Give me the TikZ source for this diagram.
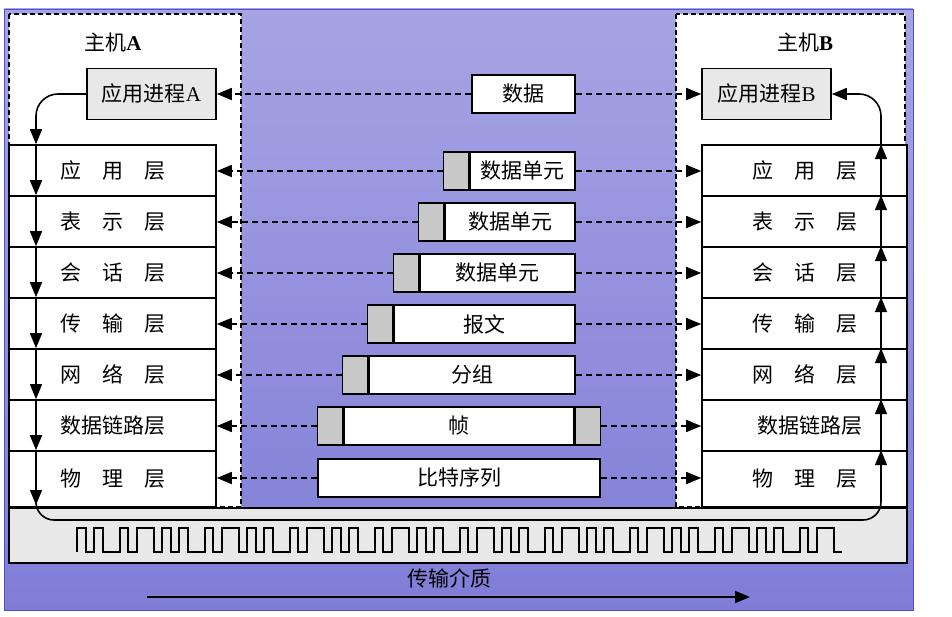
\documentclass[tikz,border=0pt]{standalone}
\usepackage{fontspec}
\setmainfont{Liberation Serif}
\newfontfamily\cjk{Noto Sans CJK SC}
\usetikzlibrary{arrows.meta}
\definecolor{bgtop}{RGB}{166,164,228}
\definecolor{bgbot}{RGB}{127,125,214}
\definecolor{bgline}{RGB}{80,80,200}
\definecolor{hdrgray}{RGB}{200,200,200}
\definecolor{ltgray}{RGB}{232,232,232}
\begin{document}
\begin{tikzpicture}[x=1pt,y=-1pt,
  txt/.style={font=\fontsize{21}{25}\selectfont},
  hostbox/.style={draw,fill=white,line width=1.4pt,dash pattern=on 5pt off 3pt},
  layerA/.style={draw,fill=white,line width=1.6pt,minimum width=207pt,minimum height=51pt,inner sep=0pt,txt},
  layerB/.style={draw,fill=white,line width=1.6pt,minimum width=205pt,minimum height=51pt,inner sep=0pt,txt},
  appbox/.style={draw,fill=ltgray,line width=1.6pt,minimum width=129pt,minimum height=51pt,inner sep=0pt,txt},
  pdu/.style={draw,fill=white,line width=1.6pt,minimum width=#1,minimum height=38pt,inner sep=0pt,txt},
  hdr/.style={draw,fill=hdrgray,line width=1.6pt,minimum width=25pt,minimum height=38pt,inner sep=0pt},
  arr/.style={line width=1.6pt,-{Triangle[length=15pt,width=12pt]}},
  darr/.style={line width=1.6pt,dash pattern=on 6pt off 4pt,-{Triangle[length=15pt,width=12pt]}},
  wave/.style={line width=1.5pt,line join=miter}]
\useasboundingbox (0,0) rectangle (952,617);
% background
\shade[top color=bgtop,bottom color=bgbot] (4,9) rectangle (913,610);
\draw[bgline,line width=0.8pt] (4,9) rectangle (913,610);
% hosts
\draw[hostbox] (9,14) rectangle (241,507);
\draw[hostbox] (676,14) rectangle (905,507);
\node[txt] (hostA) at (113,43) {{\cjk 主机}\textbf{A}};
\node[txt] (hostB) at (805,43) {{\cjk 主机}\textbf{B}};
% medium
\draw[fill=ltgray,line width=1.6pt] (9,508) rectangle (907,563);
% application processes
\node[appbox] (appA) at (151.5,94) {{\cjk 应用进程}A};
\node[appbox] (appB) at (766.5,94) {{\cjk 应用进程}B};
% layers host A
\node[layerA] (a1) at (112.5,170.5) {\cjk 应\quad 用\quad 层};
\node[layerA] (a2) at (112.5,221.5) {\cjk 表\quad 示\quad 层};
\node[layerA] (a3) at (112.5,272.5) {\cjk 会\quad 话\quad 层};
\node[layerA] (a4) at (112.5,323.5) {\cjk 传\quad 输\quad 层};
\node[layerA] (a5) at (112.5,374.5) {\cjk 网\quad 络\quad 层};
\node[layerA] (a6) at (112.5,425.5) {\cjk 数据链路层};
\node[layerA,minimum height=56pt] (a7) at (112.5,479) {\cjk 物\quad 理\quad 层};
% layers host B
\node[layerB] (b1) at (804.5,170.5) {\cjk 应\quad 用\quad 层};
\node[layerB] (b2) at (804.5,221.5) {\cjk 表\quad 示\quad 层};
\node[layerB] (b3) at (804.5,272.5) {\cjk 会\quad 话\quad 层};
\node[layerB] (b4) at (804.5,323.5) {\cjk 传\quad 输\quad 层};
\node[layerB] (b5) at (804.5,374.5) {\cjk 网\quad 络\quad 层};
\node[layerB] (b6) at (804.5,425.5) {\hspace*{10pt}\cjk 数据链路层};
\node[layerB,minimum height=56pt] (b7) at (804.5,479) {\cjk 物\quad 理\quad 层};
% PDUs
\node[pdu=103pt] (p0) at (523.5,94) {\cjk 数据};
\node[pdu=105pt] (p1) at (522.5,171) {\cjk 数据单元};
\node[hdr,anchor=east] (h1) at (p1.west) {};
\node[pdu=130pt] (p2) at (510,222) {\cjk 数据单元};
\node[hdr,anchor=east] (h2) at (p2.west) {};
\node[pdu=155pt] (p3) at (497.5,273) {\cjk 数据单元};
\node[hdr,anchor=east] (h3) at (p3.west) {};
\node[pdu=181pt] (p4) at (484.5,324) {\cjk 报文};
\node[hdr,anchor=east] (h4) at (p4.west) {};
\node[pdu=206pt] (p5) at (472,375) {\cjk 分组};
\node[hdr,anchor=east] (h5) at (p5.west) {};
\node[pdu=230pt] (p6) at (459,426) {\cjk 帧};
\node[hdr,anchor=east] (h6) at (p6.west) {};
\node[hdr,anchor=west] (t6) at (p6.east) {};
\node[pdu=282pt] (p7) at (459,478) {\cjk 比特序列};
% dashed peer arrows
\draw[darr] (p0.west) -- (p0.west -| appA.east);
\draw[darr] (p0.east) -- (p0.east -| appB.west);
\foreach \i in {1,...,5}{
  \draw[darr] (h\i.west) -- (h\i.west -| a\i.east);
  \draw[darr] (p\i.east) -- (p\i.east -| b\i.west);
}
\draw[darr] (h6.west) -- (h6.west -| a6.east);
\draw[darr] (t6.east) -- (t6.east -| b6.west);
\draw[darr] (p7.west) -- (p7.west -| a7.east);
\draw[darr] (p7.east) -- (p7.east -| b7.west);
% vertical data flow
\coordinate (xa) at (36,0);
\coordinate (xb) at (881,0);
\coordinate (atip) at (36,505);
\coordinate (wstart) at (36,495);
\coordinate (wl) at (36,520);
\coordinate (wr) at (881,520);
\draw[arr,rounded corners=22pt] (appA.west) -| (a1.north -| xa);
\foreach \i/\j in {1/2,2/3,3/4,4/5,5/6,6/7}{
  \draw[arr] (a\i.north -| xa) -- (a\j.north -| xa);
  \draw[arr] (b\j.north -| xb) -- (b\i.north -| xb);
}
\draw[arr] (a7.north -| xa) -- (atip);
\draw[arr,rounded corners=18pt] (wstart) -- (wl) -- (wr) -- (b7.north -| xb);
\draw[arr,rounded corners=22pt] (b1.north -| xb) |- (appB.east);
% signal
\draw[wave] (77,552) foreach \k in {1,...,9} { -- ++(0,-24) -- ++(9,0) -- ++(0,24) -- ++(8,0) -- ++(0,-24) -- ++(9,0) -- ++(0,24) -- ++(17,0) -- ++(0,-24) -- ++(8,0) -- ++(0,24) -- ++(9,0) -- ++(0,-24) -- ++(17,0) -- ++(0,24) -- ++(8,0) };
% medium label and direction
\node[txt] (medium) at (449,578) {\cjk 传输介质};
\coordinate (ms) at (147,597);
\coordinate (me) at (750,597);
\draw[arr] (ms) -- (me);
\end{tikzpicture}
\end{document}
